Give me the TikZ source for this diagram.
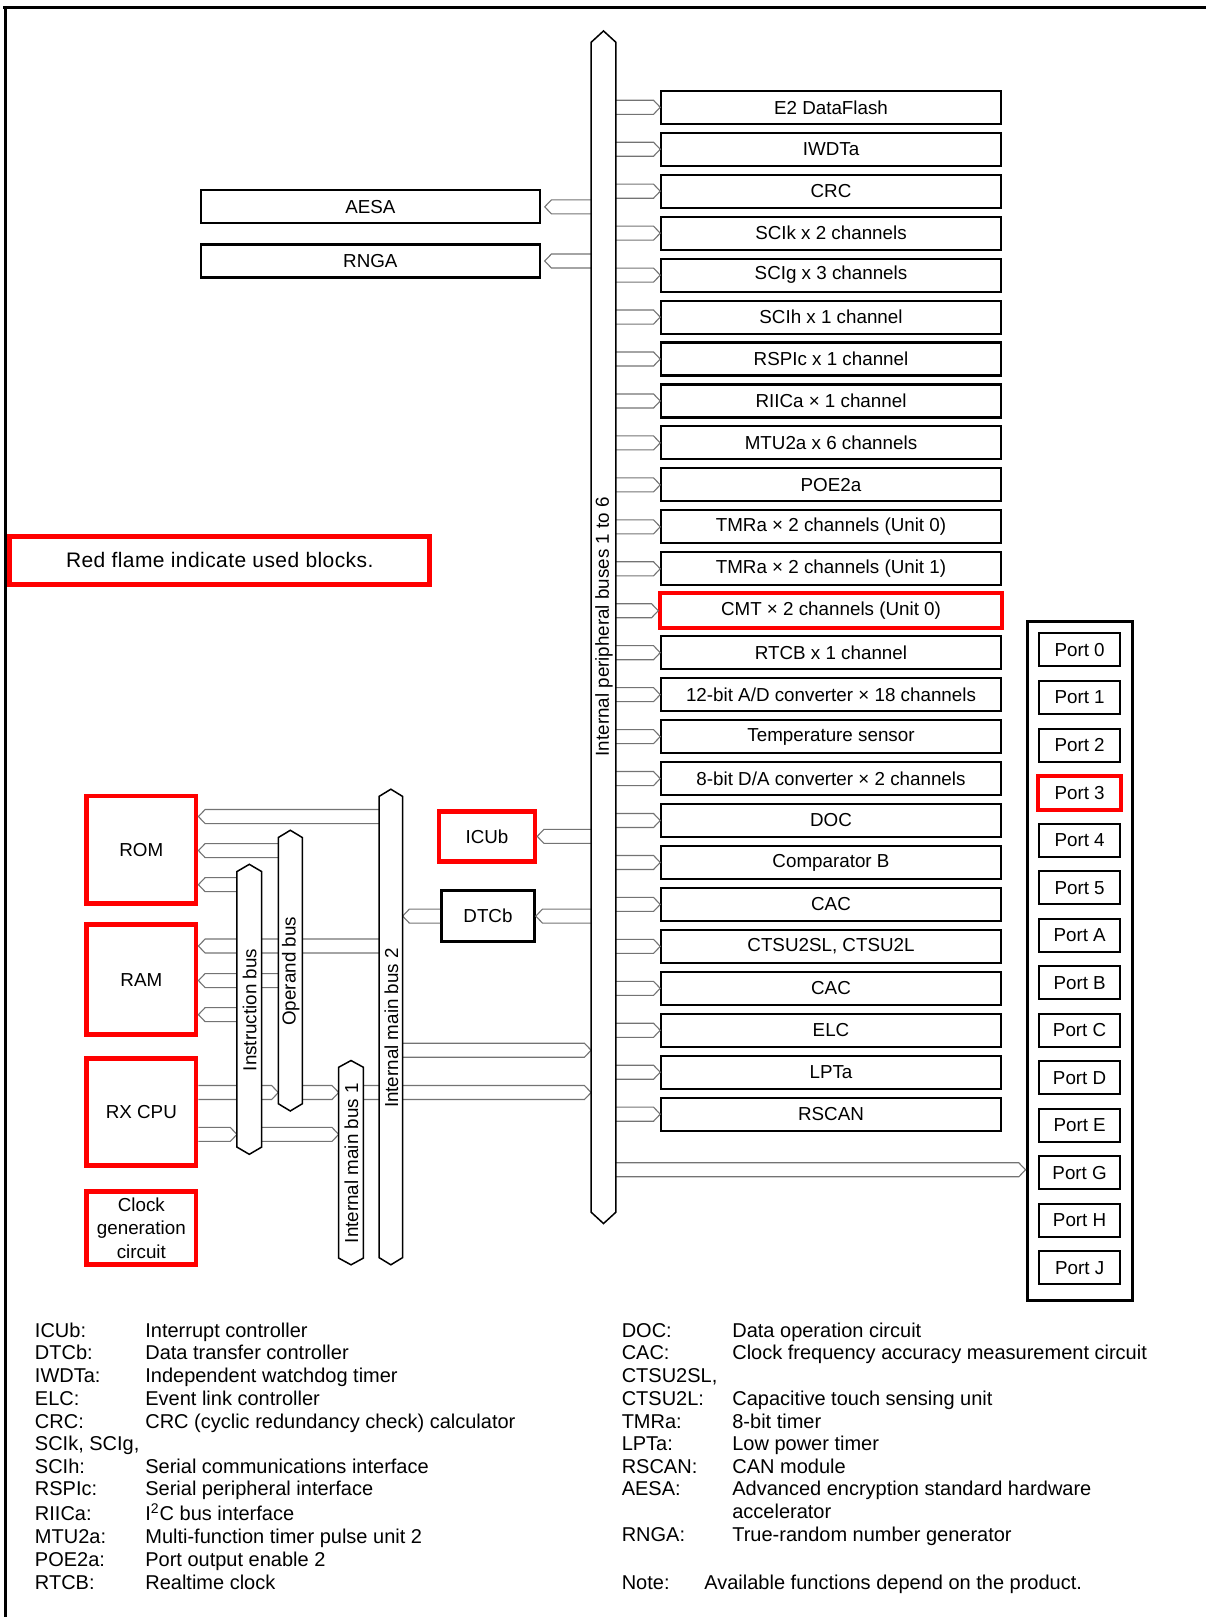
\documentclass[tikz,border=0pt]{standalone}
\usepackage{fontspec}
\setmainfont{Liberation Sans}
\usetikzlibrary{calc}
\def\pxu{0.5159pt}
\newcommand\conn[4]{%
  \path #1 coordinate (cY);
  \path (#2 |- cY) coordinate (cA) (#3 |- cY) coordinate (cB);
  \draw[connline] ($(cA)+(0,-6.8)$) -- ($(cB)+(#4,-6.8)$) -- (cB) -- ($(cB)+(#4,6.8)$) -- ($(cA)+(0,6.8)$);
}
\newcommand\busoutline[5]{% xl, xr, ytop tip, ybot tip, tip len
  \draw[busline] (#1,#3+#5) -- ({(#1+#2)/2},#3) -- (#2,#3+#5) -- (#2,#4-#5) -- ({(#1+#2)/2},#4) -- (#1,#4-#5) -- cycle;
}
\newcommand\perbox[3]{\node[#3] (p#1) at (805.5,{104+40.667*#1}) {#2};}
\newcommand\portbx[3]{\node[#3] (pt#1) at (1046.5,{630+46.08*#2}) {Port #1};}
\newcommand\legtxt[4]{\node[leg] (#1) at (#2,#3) {#4};}
\begin{document}
\begin{tikzpicture}[x=\pxu,y=-\pxu,
  every node/.style={inner sep=0pt},
  btext/.style={font=\fontsize{9.4}{11.6}\selectfont},
  pbox/.style={btext, draw=black, line width=1.05pt, minimum width=329*\pxu, minimum height=32*\pxu},
  pboxred/.style={btext, draw=red, line width=2pt, minimum width=331*\pxu, minimum height=34*\pxu},
  redbox/.style={btext, draw=red, line width=2.4pt, align=center},
  blkbox/.style={btext, draw=black, line width=1.05pt},
  portbox/.style={btext, draw=black, line width=1pt, minimum width=79*\pxu, minimum height=32*\pxu},
  portred/.style={btext, draw=red, line width=2pt, minimum width=81*\pxu, minimum height=33*\pxu},
  connline/.style={draw=black!55, line width=0.55pt, line join=miter},
  busline/.style={draw=black, line width=0.75pt, fill=white},
  buslabel/.style={btext, rotate=90},
  leg/.style={anchor=base west, font=\fontsize{10}{12}\selectfont},
]
\useasboundingbox (0,0) rectangle (1169,1567.4);
% outer frame (top and left)
\draw[line width=1.5pt] (3,7) -- (1169,7);
\draw[line width=1.5pt] (5,7) -- (5,1567.4);

% peripheral boxes
\perbox{0}{E2 DataFlash}{pbox}
\perbox{1}{IWDTa}{pbox}
\perbox{2}{CRC}{pbox}
\perbox{3}{SCIk x 2 channels}{pbox}
\perbox{4}{SCIg x 3 channels}{pbox}
\perbox{5}{SCIh x 1 channel}{pbox}
\perbox{6}{RSPIc x 1 channel}{pbox}
\perbox{7}{RIICa × 1 channel}{pbox}
\perbox{8}{MTU2a x 6 channels}{pbox}
\perbox{9}{POE2a}{pbox}
\perbox{10}{TMRa × 2 channels (Unit 0)}{pbox}
\perbox{11}{TMRa × 2 channels (Unit 1)}{pbox}
\perbox{12}{CMT × 2 channels (Unit 0)}{pboxred}
\perbox{13}{RTCB x 1 channel}{pbox}
\perbox{14}{12-bit A/D converter × 18 channels}{pbox}
\perbox{15}{Temperature sensor}{pbox}
\perbox{16}{8-bit D/A converter × 2 channels}{pbox}
\perbox{17}{DOC}{pbox}
\perbox{18}{Comparator B}{pbox}
\perbox{19}{CAC}{pbox}
\perbox{20}{CTSU2SL, CTSU2L}{pbox}
\perbox{21}{CAC}{pbox}
\perbox{22}{ELC}{pbox}
\perbox{23}{LPTa}{pbox}
\perbox{24}{RSCAN}{pbox}

% AESA, RNGA
\node[blkbox, minimum width=328*\pxu, minimum height=32*\pxu] (aesa) at (359,200.5) {AESA};
\node[blkbox, minimum width=328*\pxu, minimum height=32*\pxu] (rnga) at (359,253) {RNGA};
\coordinate (aesa-tip) at ($(aesa.east)+(4,0)$);
\coordinate (rnga-tip) at ($(rnga.east)+(4,0)$);

% note box
\node[redbox, line width=2.5pt, minimum width=407*\pxu, minimum height=46.6*\pxu, font=\fontsize{10.5}{12}\selectfont\addfontfeature{LetterSpace=2}] (note) at (213,543) {Red flame indicate used blocks.};

% left blocks
\node[redbox, minimum width=106*\pxu, minimum height=104*\pxu] (rom) at (137,823.5) {ROM};
\node[redbox, minimum width=106*\pxu, minimum height=107*\pxu] (ram) at (137,949.5) {RAM};
\node[redbox, minimum width=106*\pxu, minimum height=104*\pxu] (rx) at (137,1078) {RX CPU};
\node[redbox, minimum width=106*\pxu, minimum height=71*\pxu] (clk) at (137,1190.5) {Clock\\generation\\circuit};
\node[redbox, line width=2.3pt, minimum width=93*\pxu, minimum height=48.3*\pxu] (icu) at (472,810.7) {ICUb};
\node[blkbox, line width=1.2pt, minimum width=90.4*\pxu, minimum height=49.4*\pxu] (dtc) at (473,888) {DTCb};

% ports
\node[draw=black, line width=1.5pt, minimum width=102*\pxu, minimum height=658*\pxu] (pframe) at (1046.5,931.5) {};
\portbx{0}{0}{portbox}
\portbx{1}{1}{portbox}
\portbx{2}{2}{portbox}
\portbx{3}{3}{portred}
\portbx{4}{4}{portbox}
\portbx{5}{5}{portbox}
\portbx{A}{6}{portbox}
\portbx{B}{7}{portbox}
\portbx{C}{8}{portbox}
\portbx{D}{9}{portbox}
\portbx{E}{10}{portbox}
\portbx{G}{11}{portbox}
\portbx{H}{12}{portbox}
\portbx{J}{13}{portbox}

% bus edge coordinates
\coordinate (pbus-l) at (573,0);   \coordinate (pbus-r) at (597,0);
\coordinate (ib-l) at (229.7,0);   \coordinate (ib-r) at (253.6,0);
\coordinate (op-l) at (269.8,0);   \coordinate (op-r) at (293,0);
\coordinate (b2-l) at (367.4,0);   \coordinate (b2-r) at (390.3,0);
\coordinate (b1-l) at (328.3,0);   \coordinate (b1-r) at (352.2,0);

% connectors: peripheral bus -> peripherals
\foreach \i in {0,...,24} {\conn{(p\i.west)}{pbus-r}{p\i.west}{-6.5}}
\conn{(aesa.east)}{pbus-l}{aesa-tip}{6.5}
\conn{(rnga.east)}{pbus-l}{rnga-tip}{6.5}
\conn{(icu.east)}{pbus-l}{icu.east}{6.5}
\conn{(dtc.east)}{pbus-l}{dtc.east}{6.5}
\conn{(dtc.west)}{dtc.west}{b2-r}{6.5}
\conn{($(ptG.west)+(0,-3)$)}{pbus-r}{pframe.west}{-6.5}
% ROM / RAM
\conn{($(rom.east)+(0,-32)$)}{b2-l}{rom.east}{6.5}
\conn{($(rom.east)+(0,1)$)}{op-l}{rom.east}{6.5}
\conn{($(rom.east)+(0,34)$)}{ib-l}{rom.east}{6.5}
\conn{($(ram.east)+(0,-32.5)$)}{b2-l}{ram.east}{6.5}
\conn{($(ram.east)+(0,1)$)}{op-l}{ram.east}{6.5}
\conn{($(ram.east)+(0,34)$)}{ib-l}{ram.east}{6.5}
% CPU side
\conn{($(rx.east)+(0,-60)$)}{b2-r}{pbus-l}{-6.5}
\conn{($(rx.east)+(0,-19)$)}{b1-r}{pbus-l}{-6.5}
\conn{($(rx.east)+(0,-19)$)}{rx.east}{op-l}{-6.5}
\conn{($(rx.east)+(0,-19)$)}{op-r}{b1-l}{-6.5}
\conn{($(rx.east)+(0,21.6)$)}{rx.east}{ib-l}{-6.5}
\conn{($(rx.east)+(0,21.6)$)}{ib-r}{b1-l}{-6.5}

% buses
\busoutline{573}{597}{30}{1186}{11}
\busoutline{229.7}{253.6}{837.8}{1118.9}{7}
\busoutline{269.8}{293}{804.8}{1076.9}{7}
\busoutline{367.4}{390.3}{765}{1226}{7}
\busoutline{328.3}{352.2}{1028}{1226}{6.5}
\node[buslabel] (lpb) at (585.5,607.5) {Internal peripheral buses 1 to 6};
\node[buslabel] (lib) at (242,979) {Instruction bus};
\node[buslabel] (lop) at (281.8,941.5) {Operand bus};
\node[buslabel] (lb2) at (379.3,996.5) {Internal main bus 2};
\node[buslabel] (lb1) at (340.7,1127.5) {Internal main bus 1};

% legend left
\legtxt{l1a}{33.5}{1296.2}{ICUb:}     \legtxt{l1b}{140.5}{1296.2}{Interrupt controller}
\legtxt{l2a}{33.5}{1318.2}{DTCb:}     \legtxt{l2b}{140.5}{1318.2}{Data transfer controller}
\legtxt{l3a}{33.5}{1340.2}{IWDTa:}    \legtxt{l3b}{140.5}{1340.2}{Independent watchdog timer}
\legtxt{l4a}{33.5}{1362.2}{ELC:}      \legtxt{l4b}{140.5}{1362.2}{Event link controller}
\legtxt{l5a}{33.5}{1384.5}{CRC:}      \legtxt{l5b}{140.5}{1384.5}{CRC (cyclic redundancy check) calculator}
\legtxt{l6a}{33.5}{1406.1}{SCIk, SCIg,}
\legtxt{l7a}{33.5}{1428}{SCIh:}       \legtxt{l7b}{140.5}{1428}{Serial communications interface}
\legtxt{l8a}{33.5}{1450}{RSPIc:}      \legtxt{l8b}{140.5}{1450}{Serial peripheral interface}
\legtxt{l9a}{33.5}{1474}{RIICa:}      \legtxt{l9b}{140.5}{1474}{I\textsuperscript{2}C bus interface}
\legtxt{l10a}{33.5}{1496.6}{MTU2a:}   \legtxt{l10b}{140.5}{1496.6}{Multi-function timer pulse unit 2}
\legtxt{l11a}{33.5}{1518.5}{POE2a:}   \legtxt{l11b}{140.5}{1518.5}{Port output enable 2}
\legtxt{l12a}{33.5}{1541}{RTCB:}      \legtxt{l12b}{140.5}{1541}{Realtime clock}
% legend right
\legtxt{r1a}{602.3}{1296.2}{DOC:}     \legtxt{r1b}{709.5}{1296.2}{Data operation circuit}
\legtxt{r2a}{602.3}{1318}{CAC:}       \legtxt{r2b}{709.5}{1318}{Clock frequency accuracy measurement circuit}
\legtxt{r3a}{602.3}{1340}{CTSU2SL,}
\legtxt{r4a}{602.3}{1362}{CTSU2L:}    \legtxt{r4b}{709.5}{1362}{Capacitive touch sensing unit}
\legtxt{r5a}{602.3}{1384.5}{TMRa:}    \legtxt{r5b}{709.5}{1384.5}{8-bit timer}
\legtxt{r6a}{602.3}{1406}{LPTa:}      \legtxt{r6b}{709.5}{1406}{Low power timer}
\legtxt{r7a}{602.3}{1428}{RSCAN:}     \legtxt{r7b}{709.5}{1428}{CAN module}
\legtxt{r8a}{602.3}{1450}{AESA:}      \legtxt{r8b}{709.5}{1450}{Advanced encryption standard hardware}
\legtxt{r9b}{709.5}{1472}{accelerator}
\legtxt{r10a}{602.3}{1494.6}{RNGA:}   \legtxt{r10b}{709.5}{1494.6}{True-random number generator}
\legtxt{r11a}{602.3}{1540.4}{Note:}   \legtxt{r11b}{682.4}{1540.4}{Available functions depend on the product.}
\end{tikzpicture}
\end{document}
